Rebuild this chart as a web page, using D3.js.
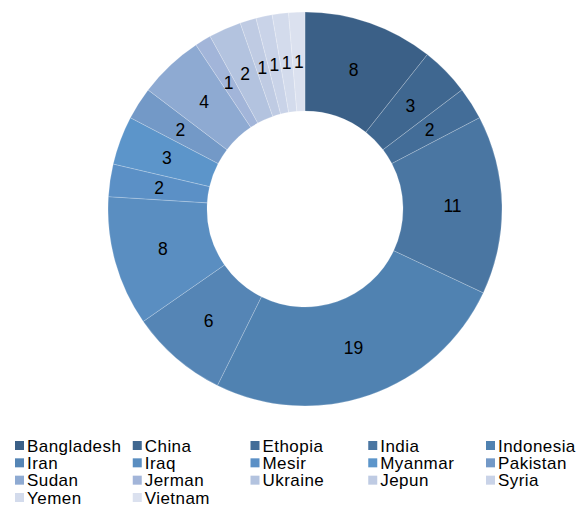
<!DOCTYPE html>
<html><head><meta charset="utf-8">
<script src="https://cdn.jsdelivr.net/npm/d3@7"></script>
<style>body{margin:0;background:#fff}svg{display:block}</style>
</head><body>
<svg id="c" width="586" height="507"></svg>
<script>
const categories = ["Bangladesh","China","Ethopia","India","Indonesia","Iran","Iraq","Mesir","Myanmar","Pakistan","Sudan","Jerman","Ukraine","Jepun","Syria","Yemen","Vietnam"];
const values = [8,3,2,11,19,6,8,2,3,2,4,1,2,1,1,1,1];
const colors = ["#3b6087","#3f6790","#436d98","#4a76a2","#5082b1","#5585b5","#5a8ec1","#5b90c6","#5c95ca","#7399c7","#8eaad2","#a2b5d9","#b3c3df","#bfcbe3","#c9d3e8","#d3dbec","#dbe1ef"];

const svg = d3.select("#c");
const cx = 305, cy = 209, R = 197, r = 98;
const font = "Liberation Sans, Arial, Helvetica, sans-serif";
const color = d3.scaleOrdinal().domain(categories).range(colors);
const pie = d3.pie().sort(null).value(d => d.v);
const data = categories.map((c,i)=>({c, v: values[i]}));
const arcs = pie(data);
const arc = d3.arc().innerRadius(r).outerRadius(R);
const g = svg.append("g").attr("transform",`translate(${cx},${cy})`);
g.selectAll("path").data(arcs).join("path")
  .attr("d", arc).attr("fill", d => color(d.data.c))
  .attr("stroke", "rgba(255,255,255,0.35)").attr("stroke-width", 0.6);
g.selectAll("text").data(arcs).join("text")
  .attr("transform", d => `translate(${arc.centroid(d)})`)
  .attr("text-anchor","middle").attr("dy","0.35em")
  .attr("font-family",font).attr("font-size",17.5)
  .attr("fill","#000").text(d => d.data.v);

const colX = d3.scalePoint().domain(d3.range(5)).range([15, 486]);
const rowY = d3.scalePoint().domain(d3.range(4)).range([441, 493]);
const lg = svg.append("g");
const items = lg.selectAll("g").data(categories).join("g")
  .attr("transform", (d,i) => `translate(${colX(i%5)},${rowY(Math.floor(i/5))})`);
items.append("rect").attr("width",9).attr("height",9).attr("fill", d => color(d));
items.append("text").attr("x",12).attr("y",10.5)
  .attr("font-family",font).attr("font-size",17).attr("letter-spacing",0.45)
  .attr("fill","#000").text(d => d);
</script>
</body></html>
